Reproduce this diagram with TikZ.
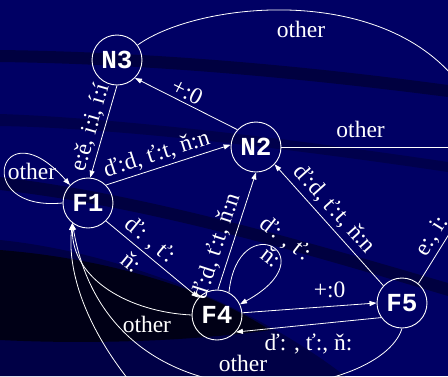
\documentclass[tikz,border=0pt]{standalone}
\usepackage{fontspec}
\setmainfont{Liberation Serif}
\newfontfamily\statefont{Liberation Mono}
\usetikzlibrary{arrows.meta}
\definecolor{bgmain}{RGB}{0,0,100}
\definecolor{bgband}{RGB}{0,0,40}
\definecolor{bgblack}{RGB}{0,0,10}
\definecolor{bglow}{RGB}{0,0,70}
\begin{document}
\begin{tikzpicture}[x=1pt,y=-1pt,
  state/.style={circle, draw=white, line width=0.9pt, minimum size=50pt, inner sep=0pt, text=white, font=\statefont\bfseries\fontsize{26}{26}\selectfont},
  edge/.style={draw=white, line width=0.8pt, -{Triangle[length=7pt,width=5pt]}},
  plain/.style={draw=white, line width=0.8pt},
  lbl/.style={text=white, font=\fontsize{23.5}{24}\selectfont, inner sep=2pt},
]
\useasboundingbox (0,0) rectangle (448,376);
\clip (0,0) rectangle (448,376);
% background
\fill[bgmain] (0,0) rectangle (448,376);
\fill[bgband, opacity=0.6] (0,50) .. controls (150,52) and (300,65) .. (448,85) -- (448,97) .. controls (300,78) and (150,64) .. (0,62) -- cycle;
\fill[bgband, opacity=0.4] (0,114) .. controls (120,118) and (300,140) .. (448,162) -- (448,172) .. controls (300,150) and (120,128) .. (0,126) -- cycle;
\fill[bgband, opacity=0.6] (0,177) .. controls (150,195) and (300,240) .. (448,283) -- (448,296) .. controls (300,252) and (150,207) .. (0,190) -- cycle;
\fill[bglow] (0,240) .. controls (100,250) and (240,295) .. (345,376) -- (0,376) -- cycle;
\fill[bgblack, opacity=0.8] (0,250) .. controls (100,258) and (200,285) .. (270,330) .. controls (200,340) and (100,345) .. (0,340) -- cycle;
% states
\node[state] (N3) at (117,60) {N3};
\node[state] (N2) at (256,147) {N2};
\node[state] (F1) at (88,203) {F1};
\node[state] (F4) at (217,315) {F4};
\node[state] (F5) at (402,303) {F5};
% off-frame ends
\coordinate (o1) at (470,100);
\coordinate (o2) at (470,147);
\coordinate (o3) at (474,194);
\coordinate (o4) at (160,415);
% connectors
\draw[edge] (N3.270) -- node[lbl, sloped, above=1pt, pos=0.5] (t1) {e:ě, i:i, í:í} (F1.85);
\draw[edge] (F1.45) -- node[lbl, sloped, above=1pt, pos=0.44] (t2) {ď:d, ť:t, ň:n} (N2.175);
\draw[edge] (N2.137) -- node[lbl, sloped, above=1pt, pos=0.54] (t3) {+:0} (N3.315);
\draw[plain] (N3.36) .. controls (200,0) and (400,-20) .. node[lbl, below=8pt, pos=0.5] (t4) {other} (o1);
\draw[plain] (N2.0) -- node[lbl, above=7pt, pos=0.42] (t5) {other} (o2);
\draw[edge] (F4.88) -- node[lbl, sloped, above=2pt, pos=0.33] (t6) {ď:d, ť:t, ň:n} (N2.270);
\draw[edge] (F5.137) -- node[lbl, sloped, above=2pt, pos=0.55] (t7) {ď:d, ť:t, ň:n} (N2.317);
\draw[edge] (F1.315) -- node[lbl, sloped, pos=0.385, align=center] (t8) {ď: , ť:\\[6pt]ň:} (F4.137);
\draw[edge] (F4.62) .. controls (238,205) and (330,255) .. (F4.25);
\node[lbl, rotate=-38, align=center] (t9) at (279,247) {ď: , ť:\\ň:};
\draw[edge] (F4.5) -- node[lbl, above=6pt, pos=0.65] (t10) {+:0} (F5.180);
\draw[edge] (F5.215) -- node[lbl, below=7pt, pos=0.5] (t11) {ď: , ť:, ň:} (F4.318);
\draw[plain] (F5.50) -- node[lbl, sloped, above=1pt, pos=0.45] (t12) {e:, i:} (o3);
\draw[edge] (F1.180) .. controls (-30,212) and (0,105) .. (F1.135);
\node[lbl] (t13) at (32,171) {other};
\draw[edge] (F4.180) .. controls (130,312) and (72,280) .. node[lbl, below=6pt, pos=0.25] (t14) {other} (F1.232);
\draw[edge] (F5.270) .. controls (380,400) and (110,440) .. node[lbl, above=10pt, pos=0.5] (t15) {other} (F1.232);
\draw[edge] (o4) .. controls (95,350) and (66,280) .. (F1.232);
\end{tikzpicture}
\end{document}
